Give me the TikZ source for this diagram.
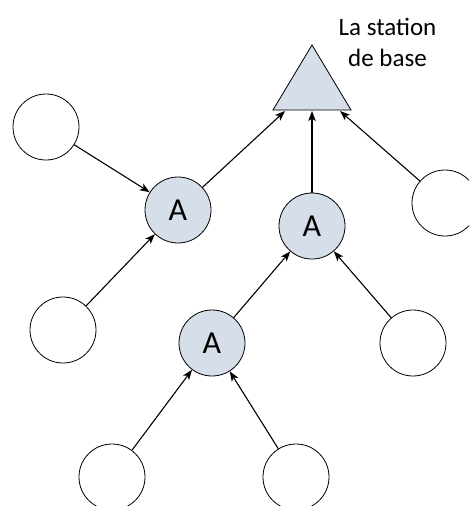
\documentclass[tikz,border=0pt]{standalone}
\usepackage{fontspec}
\setmainfont{Carlito}
\usetikzlibrary{arrows.meta}
\definecolor{relaisfill}{RGB}{214,222,234}

\begin{document}
\begin{tikzpicture}[x=1pt, y=-1pt,
  capteur/.style={circle, draw, line width=0.8pt, minimum size=66pt, inner sep=0pt, fill=white},
  relais/.style={capteur, fill=relaisfill, font=\fontsize{32}{32}\selectfont},
  lien/.style={line width=1.1pt, -{Stealth[length=10pt, width=7.5pt, inset=2.5pt]}}]
\clip (0,0) rectangle (469,506);
\useasboundingbox (0,0) rectangle (469,506);
% la station de base
\draw[line width=0.8pt, fill=relaisfill] (312,45) -- (351,110) -- (273,110) -- cycle;
\coordinate (sbg) at (285,111);
\coordinate (sbm) at (312,111);
\coordinate (sbd) at (340,111);
\node[inner sep=0pt, align=center, font=\fontsize{25}{31}\selectfont] (titre) at (387.5,42) {La station\\de base};
% noeuds
\node[relais] (A1) at (178,210) {A};
\node[relais] (A2) at (312,226) {A};
\node[relais] (A3) at (212,343) {A};
\node[capteur] (c1) at (46,127) {};
\node[capteur] (c2) at (63,330) {};
\node[capteur] (c3) at (445,203) {};
\node[capteur] (c4) at (413,343) {};
\node[capteur] (c5) at (112,477) {};
\node[capteur] (c6) at (296,477) {};
% liens
\draw[lien] (A1) -- (sbg);
\draw[lien] (A2) -- (sbm);
\draw[lien] (c3) -- (sbd);
\draw[lien] (c1) -- (A1);
\draw[lien] (c2) -- (A1);
\draw[lien] (A3) -- (A2);
\draw[lien] (c4) -- (A2);
\draw[lien] (c5) -- (A3);
\draw[lien] (c6) -- (A3);
\end{tikzpicture}
\end{document}
